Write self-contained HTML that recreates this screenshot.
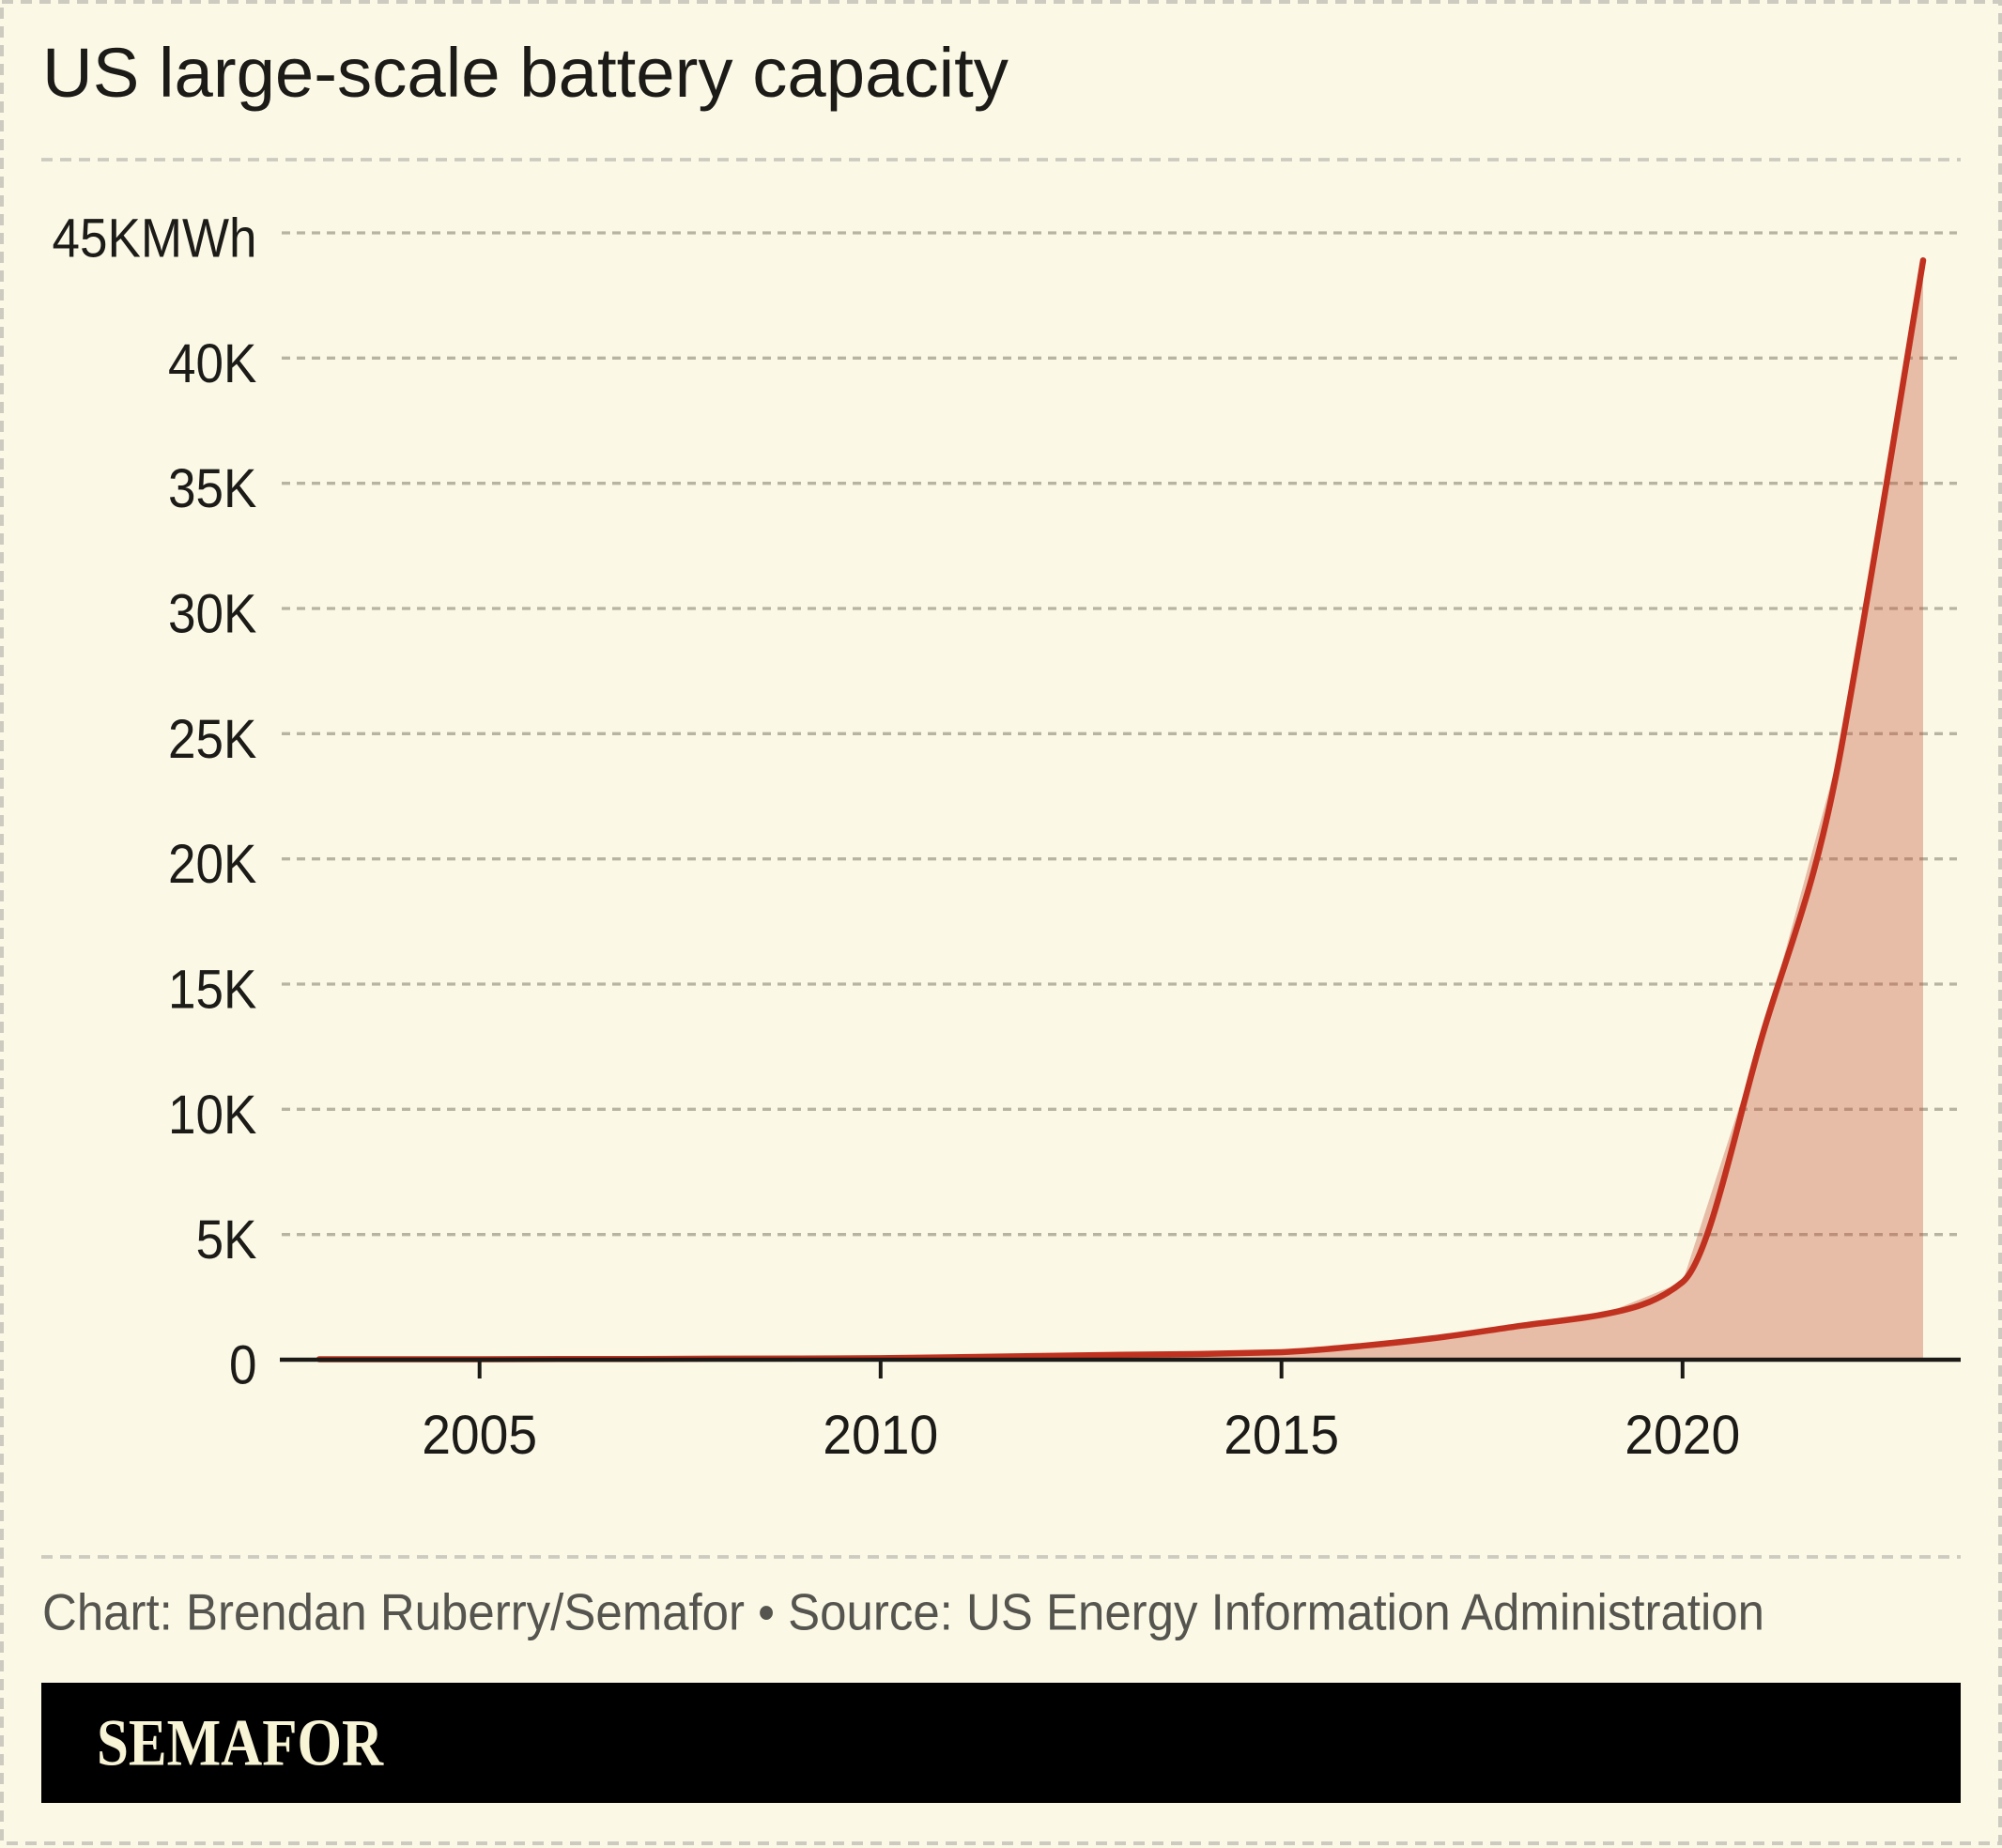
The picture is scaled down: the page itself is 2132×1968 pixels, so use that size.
<!DOCTYPE html>
<html>
<head>
<meta charset="utf-8">
<style>
  html, body { margin: 0; padding: 0; background: #fbf9e6; }
  svg { display: block; }
</style>
</head>
<body>
<svg width="2132" height="1968" viewBox="0 0 2132 1968" xmlns="http://www.w3.org/2000/svg">
  <rect x="0" y="0" width="2132" height="1968" fill="#fbf9e6"/>
  <!-- outer dashed frame -->
  <rect x="2" y="2" width="2128" height="1961" fill="none" stroke="#cdcac0" stroke-width="4" stroke-dasharray="12 8"/>

  <!-- title -->
  <text x="45" y="103" font-family="'Liberation Sans', Arial, sans-serif" font-size="74" fill="#1c1b18" textLength="1029" lengthAdjust="spacingAndGlyphs">US large-scale battery capacity</text>

  <!-- top separator -->
  <line x1="44" y1="170" x2="2088" y2="170" stroke="#cdcac0" stroke-width="3.7" stroke-dasharray="12 8"/>

  <!-- gridlines -->
  <g stroke="#b8b4a2" stroke-width="3.3" stroke-dasharray="9 7">
    <line x1="300" y1="248" x2="2084" y2="248"/>
    <line x1="300" y1="381.3" x2="2084" y2="381.3"/>
    <line x1="300" y1="514.7" x2="2084" y2="514.7"/>
    <line x1="300" y1="648" x2="2084" y2="648"/>
    <line x1="300" y1="781.3" x2="2084" y2="781.3"/>
    <line x1="300" y1="914.7" x2="2084" y2="914.7"/>
    <line x1="300" y1="1048" x2="2084" y2="1048"/>
    <line x1="300" y1="1181.3" x2="2084" y2="1181.3"/>
    <line x1="300" y1="1314.7" x2="2084" y2="1314.7"/>
  </g>

  <!-- y labels -->
  <g font-family="'Liberation Sans', Arial, sans-serif" font-size="58" fill="#1c1b18">
    <text x="55.5" y="273.5" textLength="218" lengthAdjust="spacingAndGlyphs">45KMWh</text>
    <text x="179" y="406.8" textLength="94.4" lengthAdjust="spacingAndGlyphs">40K</text>
    <text x="179" y="540.2" textLength="94.4" lengthAdjust="spacingAndGlyphs">35K</text>
    <text x="179" y="673.5" textLength="94.4" lengthAdjust="spacingAndGlyphs">30K</text>
    <text x="179" y="806.8" textLength="94.4" lengthAdjust="spacingAndGlyphs">25K</text>
    <text x="179" y="940.2" textLength="94.4" lengthAdjust="spacingAndGlyphs">20K</text>
    <text x="179" y="1073.5" textLength="94.4" lengthAdjust="spacingAndGlyphs">15K</text>
    <text x="179" y="1206.8" textLength="94.4" lengthAdjust="spacingAndGlyphs">10K</text>
    <text x="208.6" y="1340.2" textLength="64.9" lengthAdjust="spacingAndGlyphs">5K</text>
    <text x="244" y="1473.5" textLength="29.5" lengthAdjust="spacingAndGlyphs">0</text>
  </g>

  <!-- area fill (linear) -->
  <path fill="rgb(192,73,48)" fill-opacity="0.34" d="M339.9,1448 L339.9,1447.5 L425.3,1447.5 L510.7,1447.5 L596.1,1447.2 L681.5,1447.2 L767,1446.9 L852.4,1446.7 L937.8,1446.4 L1023.2,1445.3 L1108.6,1444 L1194,1442.7 L1279.3,1441.9 L1364.7,1440 L1450.1,1433.3 L1535.5,1424 L1620.9,1411.7 L1706.3,1400 L1791.8,1365.3 L1877.2,1101.3 L1962.6,786.7 L2048,277.3 L2048,1448 Z"/>

  <!-- line (smoothed) -->
  <path fill="none" stroke="#c0321f" stroke-width="6.5" stroke-linecap="round" stroke-linejoin="round"
    d="M339.9,1447.5 L425.3,1447.5 L510.7,1447.5 L596.1,1447.2 L681.5,1447.2 L767,1446.9 L852.4,1446.7 L937.8,1446.4 L1023.2,1445.3 L1108.6,1444 L1194,1442.7 L1279.3,1441.9 L1364.7,1440
       C1393.2,1438.75 1421.6,1436 1450.1,1433.3
       C1478.6,1430.67 1507,1427.7 1535.5,1424
       C1564,1420.3 1592.4,1415.7 1620.9,1411.7
       C1649.4,1407.7 1677.8,1405.3 1706.3,1400
       C1734.8,1394.7 1763.3,1388.45 1791.8,1365.3
       C1820.3,1342.2 1848.7,1197.8 1877.2,1101.3
       C1905.7,1004.9 1934.1,946.7 1962.6,786.7
       C1991.1,626.7 2019.5,452 2048,277.3"/>

  <!-- x axis -->
  <line x1="298" y1="1448" x2="2088" y2="1448" stroke="#1c1a16" stroke-width="4.5"/>
  <g stroke="#1c1a16" stroke-width="4">
    <line x1="510.7" y1="1448" x2="510.7" y2="1468"/>
    <line x1="937.8" y1="1448" x2="937.8" y2="1468"/>
    <line x1="1364.7" y1="1448" x2="1364.7" y2="1468"/>
    <line x1="1791.8" y1="1448" x2="1791.8" y2="1468"/>
  </g>
  <g font-family="'Liberation Sans', Arial, sans-serif" font-size="58" fill="#1c1b18">
    <text x="449.2" y="1548" textLength="123" lengthAdjust="spacingAndGlyphs">2005</text>
    <text x="876.3" y="1548" textLength="123" lengthAdjust="spacingAndGlyphs">2010</text>
    <text x="1303.2" y="1548" textLength="123" lengthAdjust="spacingAndGlyphs">2015</text>
    <text x="1730.3" y="1548" textLength="123" lengthAdjust="spacingAndGlyphs">2020</text>
  </g>

  <!-- footer separator -->
  <line x1="44" y1="1658" x2="2088" y2="1658" stroke="#cdcac0" stroke-width="3.7" stroke-dasharray="12 8"/>

  <!-- source text -->
  <text x="45" y="1735.5" font-family="'Liberation Sans', Arial, sans-serif" font-size="55" fill="#55544e" textLength="1834" lengthAdjust="spacingAndGlyphs">Chart: Brendan Ruberry/Semafor • Source: US Energy Information Administration</text>

  <!-- black brand bar -->
  <rect x="44" y="1792" width="2044" height="128" fill="#000000"/>
  <text x="103" y="1879.3" font-family="'Liberation Serif', 'Times New Roman', serif" font-weight="bold" font-size="71" fill="#f8f4d6" textLength="305" lengthAdjust="spacingAndGlyphs">SEMAFOR</text>
</svg>
</body>
</html>
